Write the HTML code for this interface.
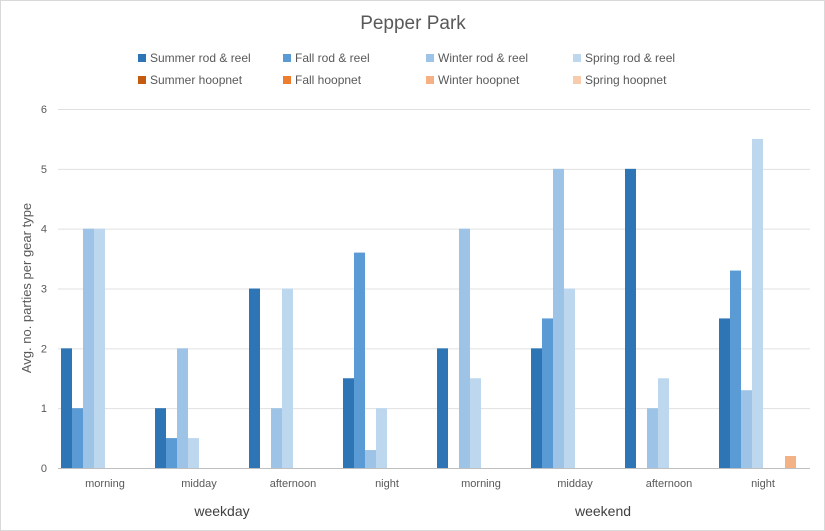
<!DOCTYPE html>
<html><head><meta charset="utf-8"><style>
body{margin:0;background:#fff;font-family:"Liberation Sans",sans-serif;}
svg{display:block}
</style></head><body>
<svg id="chart" width="825" height="531">
<rect x="0.5" y="0.5" width="824" height="530" fill="#fff" stroke="#d9d9d9"/>
<text x="413" y="29" font-size="19" fill="#595959" text-anchor="middle">Pepper Park</text>
<text transform="translate(31,288) rotate(-90)" font-size="13" fill="#595959" text-anchor="middle">Avg. no. parties per gear type</text>
<g id="grid"></g><g id="bars"></g><g id="labels"></g><g id="legend"></g>
<text x="222" y="516" font-size="14" fill="#404040" text-anchor="middle">weekday</text>
<text x="603" y="516" font-size="14" fill="#404040" text-anchor="middle">weekend</text>
</svg>
<script>
const categories=["morning","midday","afternoon","night","morning","midday","afternoon","night"];
const seriesNames=["Summer rod & reel","Fall rod & reel","Winter rod & reel","Spring rod & reel","Summer hoopnet","Fall hoopnet","Winter hoopnet","Spring hoopnet"];
const summerRod=[2,1,3,1.5,2,2,5,2.5];
const fallRod=[1,0.5,0,3.6,0,2.5,0,3.3];
const winterRod=[4,2,1,0.3,4,5,1,1.3];
const springRod=[4,0.5,3,1,1.5,3,1.5,5.5];
const summerHoop=[0,0,0,0,0,0,0,0];
const fallHoop=[0,0,0,0,0,0,0,0];
const winterHoop=[0,0,0,0,0,0,0,0.2];
const springHoop=[0,0,0,0,0,0,0,0];
const yTicks=[0,1,2,3,4,5,6];
const colors=["#2e75b6","#5b9bd5","#9dc3e6","#bdd7ee","#c55a11","#ed7d31","#f4b183","#f8cbad"];
const series=[summerRod,fallRod,winterRod,springRod,summerHoop,fallHoop,winterHoop,springHoop];
const NS="http://www.w3.org/2000/svg";
const x0=58,x1=810,yBase=468,yTop=109,yMax=6;
const gw=(x1-x0)/categories.length,bw=11,off=(gw-bw*8)/2;
const y=v=>yBase-(v/yMax)*(yBase-yTop);
function mk(tag,attrs,parent){const e=document.createElementNS(NS,tag);for(const k in attrs)e.setAttribute(k,attrs[k]);document.getElementById(parent).appendChild(e);return e;}
yTicks.forEach(t=>{
 const l=mk("line",{x1:x0,x2:x1,y1:y(t)+0.5,y2:y(t)+0.5,stroke:t===0?"#bfbfbf":"#e0e0e0"},"grid");
 
 
 const tx=mk("text",{x:47,y:y(t)+4,"font-size":11,fill:"#595959","text-anchor":"end"},"labels");
 tx.textContent=t;
 
 
});
categories.forEach((c,i)=>{
 const gx=x0+i*gw;
 series.forEach((s,j)=>{
  const v=s[i];if(!v)return;
  const r=mk("rect",{x:gx+off+j*bw,y:y(v),width:bw,height:yBase-y(v),fill:colors[j]},"bars");
  
  
 });
 const t=mk("text",{x:gx+gw/2,y:487,"font-size":11,fill:"#595959","text-anchor":"middle"},"labels");
 t.textContent=c;
 
 
});
const lx=[138,283,426,573],ly=[58,80];
seriesNames.forEach((n,j)=>{
 const px=lx[j%4],py=ly[Math.floor(j/4)];
 const g=mk("g",{},"legend");
 
 
 const r=document.createElementNS(NS,"rect");
 r.setAttribute("x",px);r.setAttribute("y",py-4);r.setAttribute("width",8);r.setAttribute("height",8);r.setAttribute("fill",colors[j]);
 
 
 g.appendChild(r);
 const t=document.createElementNS(NS,"text");
 t.setAttribute("x",px+12);t.setAttribute("y",py+4);t.setAttribute("font-size",12);t.setAttribute("fill","#595959");
 t.textContent=n;
 
 
 g.appendChild(t);
});
</script>
</body></html>
